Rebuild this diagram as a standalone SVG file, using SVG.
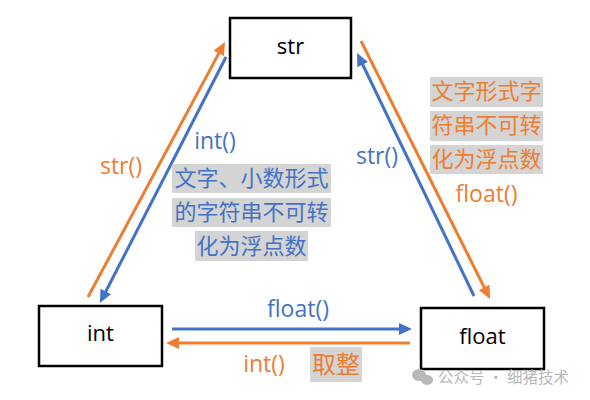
<svg xmlns="http://www.w3.org/2000/svg" width="590" height="400" viewBox="0 0 590 400">
<style>
.node{fill:#fff;stroke:#000;stroke-width:2.5}
.nl{font-family:"Open Sans","Liberation Sans",sans-serif;font-size:22px;fill:#000;text-anchor:middle}
.lb{font-family:"Open Sans","Liberation Sans",sans-serif;font-size:23px;text-anchor:middle}
.cj{font-family:"Noto Sans CJK SC",sans-serif;font-size:22px;text-anchor:middle}
.hl{fill:#d4d4d4}
.o{fill:#ed7d31}
.b{fill:#4472c4}
.lo{stroke:#ed7d31;stroke-width:3;fill:none}
.lbl{stroke:#4472c4;stroke-width:3;fill:none}
</style>
<defs>
<marker id="ao" markerUnits="userSpaceOnUse" markerWidth="14" markerHeight="12" refX="4" refY="6" orient="auto"><path d="M0,0 L13,6 L0,12 z" fill="#ed7d31"/></marker>
<marker id="ab" markerUnits="userSpaceOnUse" markerWidth="14" markerHeight="12" refX="4" refY="6" orient="auto"><path d="M0,0 L13,6 L0,12 z" fill="#4472c4"/></marker>
</defs>
<rect width="590" height="400" fill="#fff"/>
<g id="connectors">
<line class="lo" x1="88" y1="297" x2="220.7" y2="49.9" marker-end="url(#ao)"/>
<line class="lbl" x1="226" y1="57" x2="104" y2="295" marker-end="url(#ab)"/>
<line class="lbl" x1="474" y1="296" x2="361" y2="61" marker-end="url(#ab)"/>
<line class="lo" x1="361" y1="41" x2="486" y2="291" marker-end="url(#ao)"/>
<line class="lbl" x1="172" y1="329" x2="403" y2="329" marker-end="url(#ab)"/>
<line class="lo" x1="410" y1="343" x2="175" y2="343" marker-end="url(#ao)"/>
</g>
<g id="node-str"><rect class="node" x="230" y="18" width="121" height="60"/><text class="nl" x="290.5" y="54">str</text></g>
<g id="node-int"><rect class="node" x="39" y="306" width="123" height="60"/><text class="nl" x="100.5" y="341">int</text></g>
<g id="node-float"><rect class="node" x="421" y="308" width="123" height="61"/><text class="nl" x="482.5" y="344">float</text></g>
<g id="labels">
<text class="lb o" x="121" y="174">str()</text>
<text class="lb b" x="215" y="149">int()</text>
<rect class="hl" x="172" y="164" width="159" height="29"/>
<rect class="hl" x="172" y="198" width="159" height="29"/>
<rect class="hl" x="195" y="231" width="113" height="30"/>
<text class="cj b" x="251.5" y="186">文字、小数形式</text>
<text class="cj b" x="251.5" y="220">的字符串不可转</text>
<text class="cj b" x="251.5" y="254">化为浮点数</text>
<text class="lb b" x="377" y="164">str()</text>
<rect class="hl" x="430" y="77" width="113" height="30"/>
<rect class="hl" x="430" y="111" width="113" height="30"/>
<rect class="hl" x="430" y="145" width="113" height="29"/>
<text class="cj o" x="486.5" y="99">文字形式字</text>
<text class="cj o" x="486.5" y="133">符串不可转</text>
<text class="cj o" x="486.5" y="167">化为浮点数</text>
<text class="lb o" x="486.5" y="202">float()</text>
<text class="lb b" x="298" y="317">float()</text>
<text class="lb o" x="264" y="372">int()</text>
<rect class="hl" x="310" y="347" width="52" height="35"/>
<text class="cj o" x="336" y="373" style="font-size:24px">取整</text>
</g>
<g id="watermark" fill="#b8b8b8">
<ellipse cx="419" cy="375" rx="7" ry="6"/>
<ellipse cx="427" cy="380" rx="6" ry="5"/>
<text x="438" y="383" style="font-family:'Noto Sans CJK SC',sans-serif;font-size:15.5px">公众号 · 细猪技术</text>
</g>
</svg>
